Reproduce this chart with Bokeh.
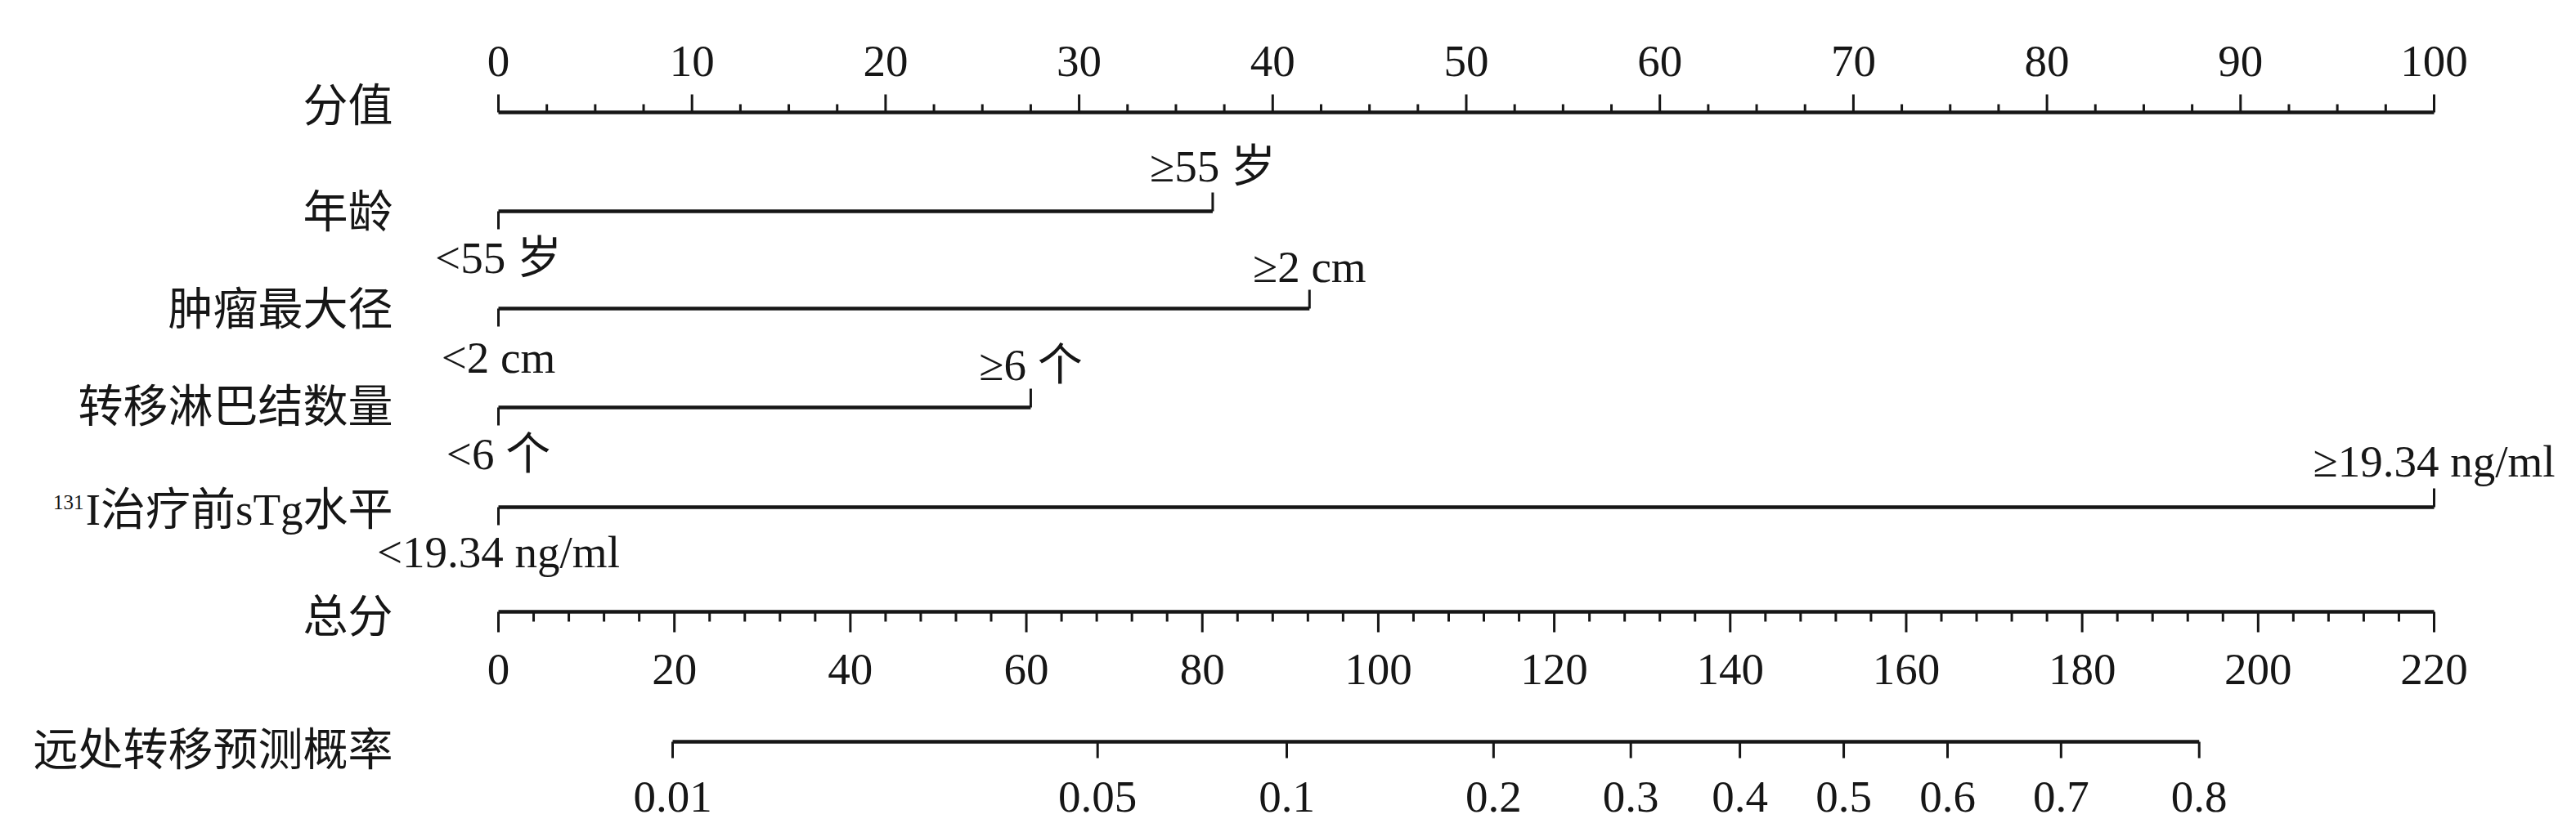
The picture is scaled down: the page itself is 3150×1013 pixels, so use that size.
from bokeh.plotting import figure
from bokeh.models import Range1d
from bokeh.core.properties import value
from bokeh.embed import file_html
from bokeh.resources import INLINE

# ---------------- data ----------------
points_major = [0, 10, 20, 30, 40, 50, 60, 70, 80, 90, 100]
points_minor = [v * 2.5 for v in range(41) if (v * 2.5) % 10 != 0]
points_labels = [str(v) for v in points_major]

row_names = ["分值", "年龄", "肿瘤最大径", "转移淋巴结数量", "I治疗前sTg水平", "总分", "远处转移预测概率"]

age_levels = ["<55 岁", "≥55 岁"]
age_points = [0, 36.9]
size_levels = ["<2 cm", "≥2 cm"]
size_points = [0, 41.9]
node_levels = ["<6 个", "≥6 个"]
node_points = [0, 27.5]
stg_levels = ["<19.34 ng/ml", "≥19.34 ng/ml"]
stg_points = [0, 100]

total_major = [0, 20, 40, 60, 80, 100, 120, 140, 160, 180, 200, 220]
total_minor = [v for v in range(0, 221, 4) if v % 20 != 0]
total_labels = [str(v) for v in total_major]
TOTAL_MAX = 220
POINTS_MAX = 100

prob_labels = ["0.01", "0.05", "0.1", "0.2", "0.3", "0.4", "0.5", "0.6", "0.7", "0.8"]
prob_total = [19.8, 68.1, 89.6, 113.1, 128.7, 141.1, 152.9, 164.7, 177.6, 193.3]

# ---------------- layout ----------------
W, H = 3134, 1005
X0_PX = 609.0           # screen x of 0 points
PX_PER_PT = 23.67
FONT = value("Liberation Serif, Noto Sans CJK SC")
INK = "#161616"
FS = "55px"

def t2p(t):
    return t * POINTS_MAX / TOTAL_MAX

p = figure(width=W, height=H, output_backend="svg", toolbar_location=None,
           x_range=Range1d(-X0_PX / PX_PER_PT, (W - X0_PX) / PX_PER_PT),
           y_range=Range1d(H, 0), min_border=0,
           x_axis_location=None, y_axis_location=None)
p.grid.visible = False
p.outline_line_color = None
p.background_fill_color = "white"
p.border_fill_color = "white"

LW = 4.5
TW = 3.0

# rows (screen y)
Y_PTS, Y_AGE, Y_SIZE, Y_NODE, Y_STG, Y_TOT, Y_PROB = 137, 258, 377, 498, 620, 748, 907

def txt(xs, ys, labels, align="center", size=FS, xoff=0):
    p.text(x=xs, y=ys, text=labels, text_align=align, text_baseline="middle",
           text_font=FONT, text_font_size=size, text_color=INK, x_offset=xoff)

# --- points axis (ticks up) ---
p.line(x=[points_major[0], points_major[-1]], y=[Y_PTS, Y_PTS], line_color=INK, line_width=LW)
p.segment(x0=points_major, y0=[Y_PTS] * len(points_major), x1=points_major,
          y1=[Y_PTS - 22] * len(points_major), line_color=INK, line_width=TW)
p.segment(x0=points_minor, y0=[Y_PTS] * len(points_minor), x1=points_minor,
          y1=[Y_PTS - 10] * len(points_minor), line_color=INK, line_width=TW)
txt(points_major, [74] * len(points_major), points_labels)

# --- variable rows ---
def var_row(levels, pts, y, lo_c, hi_c):
    p.line(x=[pts[0], pts[-1]], y=[y, y], line_color=INK, line_width=LW)
    p.segment(x0=[pts[0]], y0=[y], x1=[pts[0]], y1=[y + 22], line_color=INK, line_width=TW)
    p.segment(x0=[pts[-1]], y0=[y], x1=[pts[-1]], y1=[y - 23], line_color=INK, line_width=TW)
    txt([pts[0]], [lo_c], [levels[0]])
    txt([pts[-1]], [hi_c], [levels[-1]])

var_row(age_levels, age_points, Y_AGE, 315, 203)
var_row(size_levels, size_points, Y_SIZE, 437, 326)
var_row(node_levels, node_points, Y_NODE, 555, 446)
var_row(stg_levels, stg_points, Y_STG, 675, 564)

# --- total points axis (ticks down) ---
tmaj = [t2p(v) for v in total_major]
tmin = [t2p(v) for v in total_minor]
p.line(x=[tmaj[0], tmaj[-1]], y=[Y_TOT, Y_TOT], line_color=INK, line_width=LW)
p.segment(x0=tmaj, y0=[Y_TOT] * len(tmaj), x1=tmaj, y1=[Y_TOT + 25] * len(tmaj),
          line_color=INK, line_width=TW)
p.segment(x0=tmin, y0=[Y_TOT] * len(tmin), x1=tmin, y1=[Y_TOT + 12] * len(tmin),
          line_color=INK, line_width=TW)
txt(tmaj, [818] * len(tmaj), total_labels)

# --- probability axis (ticks down) ---
pp = [t2p(v) for v in prob_total]
p.line(x=[pp[0], pp[-1]], y=[Y_PROB, Y_PROB], line_color=INK, line_width=LW)
p.segment(x0=pp, y0=[Y_PROB] * len(pp), x1=pp, y1=[Y_PROB + 20] * len(pp),
          line_color=INK, line_width=TW)
txt(pp, [974] * len(pp), prob_labels)

# --- row labels ---
label_y = [129, 259, 378, 497, 623, 754, 917]
txt([0] * len(row_names), label_y, row_names, align="right", xoff=-129)
# superscript of the isotope
txt([0], [614], ["131"], align="right", size="25px", xoff=-507)

open("out.html", "w").write(file_html(p, INLINE))
